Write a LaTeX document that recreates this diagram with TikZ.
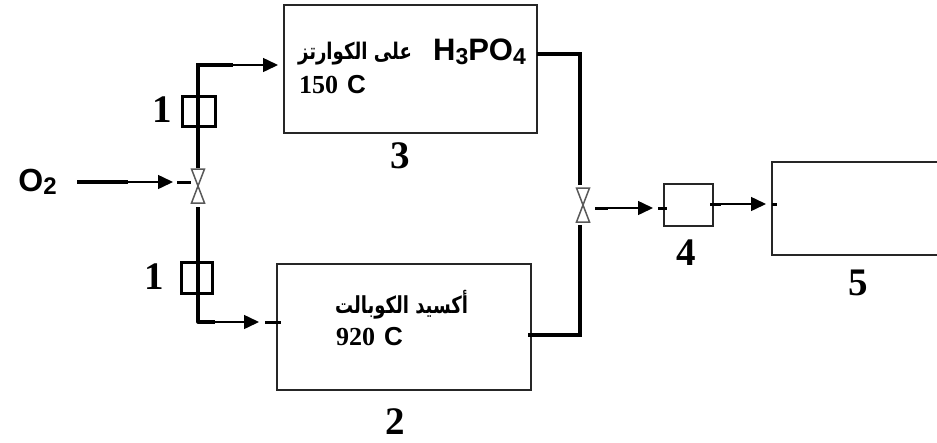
\documentclass[tikz,border=0pt]{standalone}
\usepackage{fontspec}
\usepackage{graphicx}
\setmainfont{Liberation Serif}
\setsansfont{Liberation Sans}
\newfontfamily\arabicfont[Script=Arabic]{DejaVu Sans}
\TeXXeTstate=1
\usetikzlibrary{arrows.meta}
\tikzset{
  x=1pt,y=-1pt,
  box/.style={draw=black!85,line width=1.6pt,inner sep=0pt,outer sep=0pt},
  filterbox/.style={draw=black,line width=3pt,inner sep=0pt,outer sep=0pt},
  ghost/.style={inner sep=0pt,outer sep=0pt},
  pipe/.style={line width=3.2pt,line cap=butt},
  thin line/.style={line width=1.5pt,-{Triangle[length=15pt,width=14pt]}},
  stub/.style={line width=3pt},
  valve tri/.style={draw=black!65,line width=1.5pt,fill=white,line join=miter},
  num/.style={font=\fontsize{39}{39}\selectfont\bfseries,inner sep=0pt},
  temp/.style={font=\fontsize{26}{26}\selectfont\bfseries,inner sep=0pt},
  sanslabel/.style={font=\sffamily\bfseries,inner sep=0pt},
  arab/.style={inner sep=0pt}
}
\begin{document}
\begin{tikzpicture}
\fill[white] (0,0) rectangle (937,442);
\useasboundingbox (0,0) rectangle (937,442);
% boxes
\node[box,minimum width=253pt,minimum height=128pt] (b3) at (410.5,69) {};
\node[box,minimum width=254pt,minimum height=126pt] (b2) at (404,327) {};
\node[box,minimum width=49pt,minimum height=42pt] (b4) at (688.5,205) {};
\node[ghost,minimum width=165pt,minimum height=93pt] (b5) at (854.5,208.5) {};
\draw[box] (b5.north east) -- (b5.north west) -- (b5.south west) -- (b5.south east);
% valves
\node[ghost,minimum width=13pt,minimum height=34pt] (v1) at (198,186) {};
\node[ghost,minimum width=13pt,minimum height=34pt] (v2) at (583,205) {};
\foreach \v in {v1,v2}{
  \draw[valve tri] (\v.north west) -- (\v.north east) -- (\v.center) -- cycle;
  \draw[valve tri] (\v.south west) -- (\v.south east) -- (\v.center) -- cycle;
}
% coordinates
\coordinate (a0) at (77,182);
\coordinate (a1) at (128,182);
\coordinate (a2) at (173,182);
\coordinate (a3) at (177,182);
\coordinate (a4) at (191,182);
\coordinate (t0) at (198,168);
\coordinate (t1) at (198,65);
\coordinate (t2) at (233,65);
\coordinate (t3) at (278,65);
\coordinate (l0) at (198,207);
\coordinate (l1) at (198,322);
\coordinate (l2) at (215,322);
\coordinate (l3) at (259,322);
\coordinate (l4) at (265,322);
\coordinate (l5) at (281,322);
\coordinate (r0) at (537,54);
\coordinate (r1) at (580,54);
\coordinate (r2) at (580,185);
\coordinate (r3) at (580,225);
\coordinate (r4) at (580,335);
\coordinate (r5) at (528,335);
\coordinate (o0) at (595,208);
\coordinate (o1) at (608,208);
\coordinate (o2) at (653,208);
\coordinate (o3) at (658,208);
\coordinate (o4) at (667,208);
\coordinate (p0) at (710,204);
\coordinate (p1) at (721,204);
\coordinate (p2) at (766,204);
\coordinate (p3) at (772,204);
\coordinate (p4) at (777,204);
% pipes
\draw[pipe] (a0) -- (a1);
\draw[thin line] (a1) -- (a2);
\draw[stub] (a3) -- (a4);
\draw[pipe,line join=miter] (t0) -- (t1) -- (t2);
\draw[thin line] (t2) -- (t3);
\draw[pipe,line join=round] (l0) -- (l1) -- (l2);
\draw[thin line] (l2) -- (l3);
\draw[stub] (l4) -- (l5);
\draw[pipe,line join=miter] (r0) -- (r1) -- (r2);
\draw[pipe,line join=miter] (r3) -- (r4) -- (r5);
\draw[stub] (o0) -- (o1);
\draw[thin line] (o1) -- (o2);
\draw[stub] (o3) -- (o4);
\draw[stub] (p0) -- (p1);
\draw[thin line] (p1) -- (p2);
\draw[stub] (p3) -- (p4);
% filters
\node[filterbox,minimum width=33pt,minimum height=30pt] (f1) at (199,111) {};
\node[filterbox,minimum width=31pt,minimum height=31pt] (f2) at (196.5,277.5) {};
% labels
\node[num] (n1a) at (162,110) {1};
\node[num] (n1b) at (154,277) {1};
\node[num] (n3) at (400,156) {3};
\node[num] (n2) at (395,422) {2};
\node[num] (n4) at (686,253) {4};
\node[num] (n5) at (858,283) {5};
\node[sanslabel,font=\sffamily\bfseries\fontsize{32}{32}\selectfont] (o2l) at (37.5,182) {O\raisebox{-3pt}{\fontsize{24}{24}\selectfont 2}};
\node[sanslabel,font=\sffamily\bfseries\fontsize{31}{31}\selectfont] (h3) at (479.5,52) {H\raisebox{-4pt}{\fontsize{23}{23}\selectfont 3}PO\raisebox{-4pt}{\fontsize{23}{23}\selectfont 4}};
\node[arab] (ar3) at (355,54) {\resizebox*{114pt}{23pt}{\arabicfont\bfseries\beginR على الكوارتز\endR}};
\node[arab] (ar2) at (401.5,305) {\resizebox*{133pt}{29pt}{\arabicfont\bfseries\beginR أكسيد الكوبالت\endR}};
\node[temp] (t150) at (332.5,85) {150\hspace{9pt}\sffamily C};
\node[temp] (t920) at (369.5,337) {920\hspace{9pt}\sffamily C};
\end{tikzpicture}
\end{document}
